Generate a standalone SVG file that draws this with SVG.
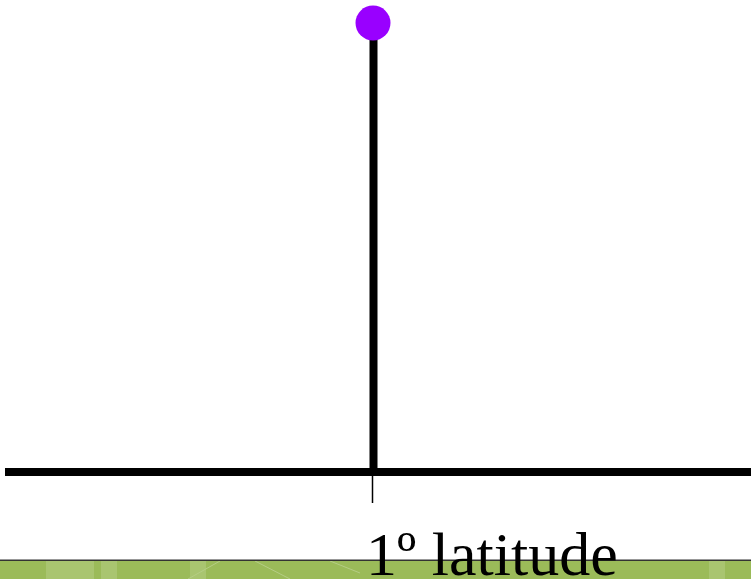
<svg xmlns="http://www.w3.org/2000/svg" width="751" height="579" viewBox="0 0 751 579">
<style>
.axis{stroke:#000;stroke-width:8;fill:none}
.tick{stroke:#000;stroke-width:1.5}
.lbl{font-family:"Liberation Serif","Times New Roman",serif;font-size:62px;fill:#000}
.band{fill:#9bbb59}
.lite{fill:#a9c570}
</style>
<rect width="751" height="579" fill="#fff"/>
<g id="footer">
<rect class="band" x="0" y="560" width="751" height="19"/>
<rect class="lite" x="46" y="561" width="48" height="18"/>
<rect class="lite" x="101" y="561" width="16" height="18"/>
<rect class="lite" x="190" y="561" width="16" height="18"/>
<rect class="lite" x="709" y="561" width="16" height="18"/>
<line x1="188" y1="579" x2="220" y2="561" stroke="#b5cd85" stroke-width="1"/>
<line x1="255" y1="561" x2="290" y2="579" stroke="#b5cd85" stroke-width="1"/>
<line x1="330" y1="561" x2="360" y2="573" stroke="#b5cd85" stroke-width="1"/>
<rect x="0" y="559.5" width="751" height="1.5" fill="#333"/>
</g>
<g id="connectors">
<line class="axis" x1="5" y1="472" x2="751" y2="472"/>
<line class="axis" x1="373.5" y1="30" x2="373.5" y2="472"/>
<line class="tick" x1="372.5" y1="476" x2="372.5" y2="503"/>
</g>
<g id="point">
<circle cx="373" cy="23" r="17.5" fill="#9900ff"/>
</g>
<g id="label">
<text class="lbl" x="366" y="575">1º latitude</text>
</g>
</svg>
